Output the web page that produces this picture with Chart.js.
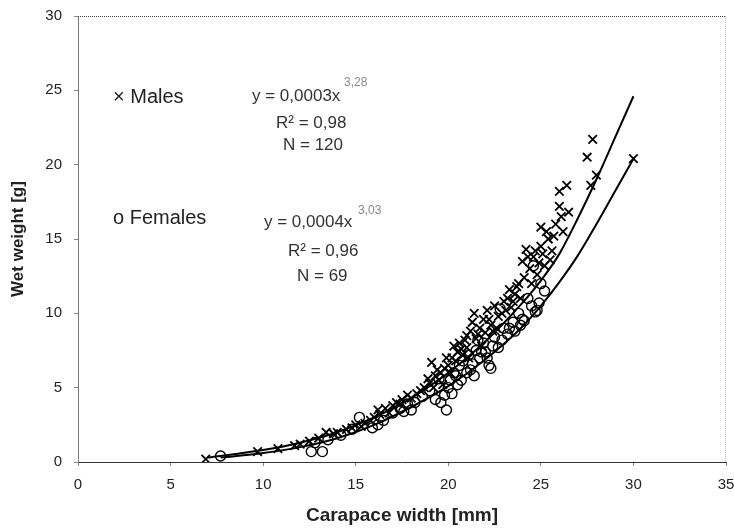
<!DOCTYPE html>
<html>
<head>
<meta charset="utf-8">
<script src="https://cdn.jsdelivr.net/npm/chart.js@4.4.1/dist/chart.umd.min.js"></script>
<style>
  html, body { margin: 0; padding: 0; background: #fff; }
  #wrap { width: 734px; height: 529px; }
</style>
</head>
<body>
<div id="wrap"><canvas id="chart"></canvas></div>
<script>
// --- Data ---
const xTicks = [0, 5, 10, 15, 20, 25, 30, 35];
const yTicks = [0, 5, 10, 15, 20, 25, 30];

// males (x = carapace width mm, y = wet weight g)
const maleX = [6.9, 9.7, 10.8, 11.7, 12.0, 12.5, 13.0, 13.4, 13.8, 14.0, 14.5, 14.8, 15.0, 15.3, 15.5, 15.8, 16.0, 16.2,
  16.3, 16.6, 16.8, 17.0, 17.2, 17.4, 17.5, 17.8, 18.0, 18.3, 18.5, 18.7, 18.9, 19.0, 19.1, 19.2, 19.3, 19.4, 19.5,
  19.6, 19.7, 19.8, 19.9, 20.0, 20.1, 20.2, 20.3, 20.4, 20.5, 20.6, 20.7, 20.8, 20.9, 21.0, 21.0, 21.1, 21.2, 21.3,
  21.4, 21.5, 21.6, 21.7, 21.8, 21.9, 22.0, 22.1, 22.2, 22.3, 22.4, 22.5, 22.6, 22.7, 22.9, 23.0, 23.1, 23.2, 23.3,
  23.4, 23.5, 23.6, 23.7, 23.8, 23.9, 24.0, 24.1, 24.2, 24.3, 24.4, 24.5, 24.6, 24.7, 24.8, 24.9, 25.0, 25.0, 25.1,
  25.2, 25.3, 25.4, 25.5, 25.6, 25.7, 25.8, 26.0, 26.0, 26.1, 26.2, 26.4, 26.5, 27.5, 27.7, 27.8, 28.0, 30.0];
const maleY = [0.2, 0.7, 0.9, 1.1, 1.2, 1.4, 1.6, 2.0, 1.9, 2.0, 2.2, 2.3, 2.5, 2.4, 2.6, 2.8, 3.0, 3.5,
  3.2, 3.6, 3.3, 3.8, 4.0, 3.9, 4.2, 4.5, 4.3, 4.6, 4.8, 5.0, 5.6, 5.3, 6.7, 5.0, 5.8, 6.2, 5.5,
  6.0, 5.2, 6.3, 7.0, 6.5, 6.0, 7.0, 7.8, 6.8, 7.4, 8.0, 7.6, 7.2, 8.2, 8.5, 7.7, 7.0, 8.8, 9.4,
  10.0, 8.3, 8.6, 9.0, 7.8, 9.6, 8.7, 10.2, 9.6, 9.2, 8.8, 10.5, 9.0, 9.8, 10.0, 10.8, 10.2, 11.0, 11.6,
  10.4, 10.8, 11.3, 11.8, 12.0, 11.0, 13.5, 12.4, 14.3, 13.8, 13.0, 12.0, 13.8, 14.2, 12.6, 13.4, 15.8, 14.5, 14.0,
  13.2, 15.5, 15.0, 13.6, 14.2, 15.2, 16.0, 18.2, 17.2, 16.5, 15.5, 18.6, 16.8, 20.5, 18.6, 21.7, 19.3, 20.4];

// females
const femaleX = [7.7, 12.6, 13.2, 12.8, 13.5, 14.2, 14.8, 15.2, 15.9, 16.2, 16.5, 17.0, 17.4, 17.6, 17.8, 18.0, 18.2,
  18.6, 19.0, 19.3, 19.5, 19.6, 19.8, 19.9, 20.0, 20.1, 20.2, 20.3, 20.4, 20.5, 20.6, 20.7, 20.8, 21.0, 21.1, 21.2,
  21.3, 21.4, 21.5, 21.6, 21.7, 21.8, 21.9, 22.0, 22.1, 22.2, 22.3, 22.4, 22.5, 22.7, 22.8, 22.9, 23.0, 23.2, 23.3,
  23.5, 23.6, 23.8, 23.9, 24.0, 24.1, 24.3, 24.5, 24.6, 24.7, 24.8, 24.9, 25.0, 25.2];
const femaleY = [0.4, 0.7, 0.7, 1.3, 1.5, 1.8, 2.2, 3.0, 2.3, 2.5, 2.8, 3.3, 3.6, 3.4, 3.9, 3.5, 4.0,
  4.4, 4.8, 4.2, 5.6, 4.0, 4.5, 3.5, 5.0, 5.5, 4.6, 6.0, 5.8, 5.2, 6.5, 5.5, 6.8, 6.0, 7.2, 6.2,
  6.6, 5.8, 7.5, 8.2, 7.0, 7.4, 8.0, 7.4, 7.0, 6.5, 6.3, 7.8, 8.4, 7.7, 10.3, 8.2, 9.0, 8.6, 9.0,
  9.4, 8.8, 10.0, 9.2, 9.6, 9.5, 11.0, 10.5, 13.2, 10.1, 10.2, 10.7, 12.0, 11.5];

// fitted power curves as drawn in the figure
const maleFitX = [7, 10, 12, 14, 16, 18, 20, 22, 24, 25, 26, 27, 28, 29, 30];
const maleFitY = [0.3, 0.8, 1.3, 2.0, 3.0, 4.3, 6.0, 8.1, 10.7, 12.2, 14.0, 16.4, 19.0, 21.8, 24.6];
const femaleFitX = [7.7, 10, 12, 14, 16, 18, 20, 22, 24, 25, 26, 27, 28, 29, 30];
const femaleFitY = [0.3, 0.6, 1.0, 1.6, 2.5, 3.7, 5.1, 6.9, 9.1, 10.5, 12.1, 13.9, 16.0, 18.2, 20.4];

const toPoints = (xs, ys) => xs.map((x, i) => ({ x: x, y: ys[i] }));

const FONT = '"Liberation Sans", Arial, sans-serif';

// frame + text labels drawn inside the plot
const notesPlugin = {
  id: 'notes',
  afterDraw(chart) {
    const ctx = chart.ctx;
    const a = chart.chartArea;
    ctx.save();

    // plot frame: top + right dotted
    ctx.setLineDash([1, 1]);
    ctx.lineWidth = 1;
    ctx.strokeStyle = '#444';
    ctx.beginPath();
    ctx.moveTo(a.left, a.top + 0.5);
    ctx.lineTo(a.right, a.top + 0.5);
    ctx.stroke();
    ctx.strokeStyle = '#bbb';
    ctx.beginPath();
    ctx.moveTo(a.right - 0.5, a.top);
    ctx.lineTo(a.right - 0.5, a.bottom);
    ctx.stroke();
    ctx.setLineDash([]);

    ctx.textBaseline = 'middle';
    ctx.textAlign = 'left';

    // legend-ish labels
    ctx.fillStyle = '#222';
    ctx.font = '20px ' + FONT;
    ctx.fillText('\u00d7 Males', 113, 97);
    ctx.fillText('o Females', 113, 218);

    // equations
    ctx.fillStyle = '#333';
    ctx.font = '17px ' + FONT;
    ctx.fillText('y = 0,0003x', 252, 96);
    ctx.fillText('R\u00b2 = 0,98', 276, 123);
    ctx.fillText('N = 120', 283, 145);
    ctx.fillText('y = 0,0004x', 264, 222);
    ctx.fillText('R\u00b2 = 0,96', 288, 251);
    ctx.fillText('N = 69', 297, 276);

    ctx.fillStyle = '#888';
    ctx.font = '12px ' + FONT;
    ctx.fillText('3,28', 344, 83);
    ctx.fillText('3,03', 358, 211);

    ctx.restore();
  }
};

const ctx = document.getElementById('chart').getContext('2d');

new Chart(ctx, {
  type: 'scatter',
  data: {
    datasets: [
      {
        label: 'Males fit',
        data: toPoints(maleFitX, maleFitY),
        showLine: true,
        borderColor: '#000',
        borderWidth: 2,
        pointRadius: 0,
        cubicInterpolationMode: 'monotone'
      },
      {
        label: 'Females fit',
        data: toPoints(femaleFitX, femaleFitY),
        showLine: true,
        borderColor: '#000',
        borderWidth: 2,
        pointRadius: 0,
        cubicInterpolationMode: 'monotone'
      },
      {
        label: 'Males',
        data: toPoints(maleX, maleY),
        pointStyle: 'crossRot',
        pointRadius: 6,
        borderColor: '#000',
        borderWidth: 1.8
      },
      {
        label: 'Females',
        data: toPoints(femaleX, femaleY),
        pointStyle: 'circle',
        pointRadius: 5,
        borderColor: '#000',
        backgroundColor: 'rgba(255,255,255,0)',
        borderWidth: 1.4
      }
    ]
  },
  options: {
    responsive: true,
    maintainAspectRatio: false,
    animation: false,
    layout: { padding: { top: 16, right: 8, left: 0, bottom: 0 } },
    plugins: {
      legend: { display: false },
      tooltip: { enabled: false }
    },
    scales: {
      x: {
        type: 'linear',
        min: 0,
        max: 35,
        afterFit: s => { s.height = 67; s.paddingLeft = 0; s.paddingRight = 0; },
        afterBuildTicks: s => { s.ticks = xTicks.map(v => ({ value: v })); },
        grid: { drawOnChartArea: false, drawTicks: true, tickLength: 4, color: '#888' },
        border: { color: '#333', dash: [1, 1], width: 1 },
        ticks: { color: '#222', padding: 10, font: { family: FONT, size: 15 } },
        title: {
          display: true,
          text: 'Carapace width [mm]',
          color: '#222',
          padding: { top: 0, bottom: 2 },
          font: { family: FONT, size: 19, weight: 'bold' }
        }
      },
      y: {
        type: 'linear',
        min: 0,
        max: 30,
        afterFit: s => { s.width = 78; s.paddingTop = 0; s.paddingBottom = 0; },
        afterBuildTicks: s => { s.ticks = yTicks.map(v => ({ value: v })); },
        grid: { drawOnChartArea: false, drawTicks: true, tickLength: 4, color: '#888' },
        border: { color: '#777', dash: [1, 1], width: 1 },
        ticks: { color: '#222', padding: 12, font: { family: FONT, size: 15 } },
        title: {
          display: true,
          text: 'Wet weight [g]',
          color: '#222',
          padding: { top: 8, bottom: 0 },
          font: { family: FONT, size: 17, weight: 'bold' }
        }
      }
    }
  },
  plugins: [notesPlugin]
});
</script>
</body>
</html>
